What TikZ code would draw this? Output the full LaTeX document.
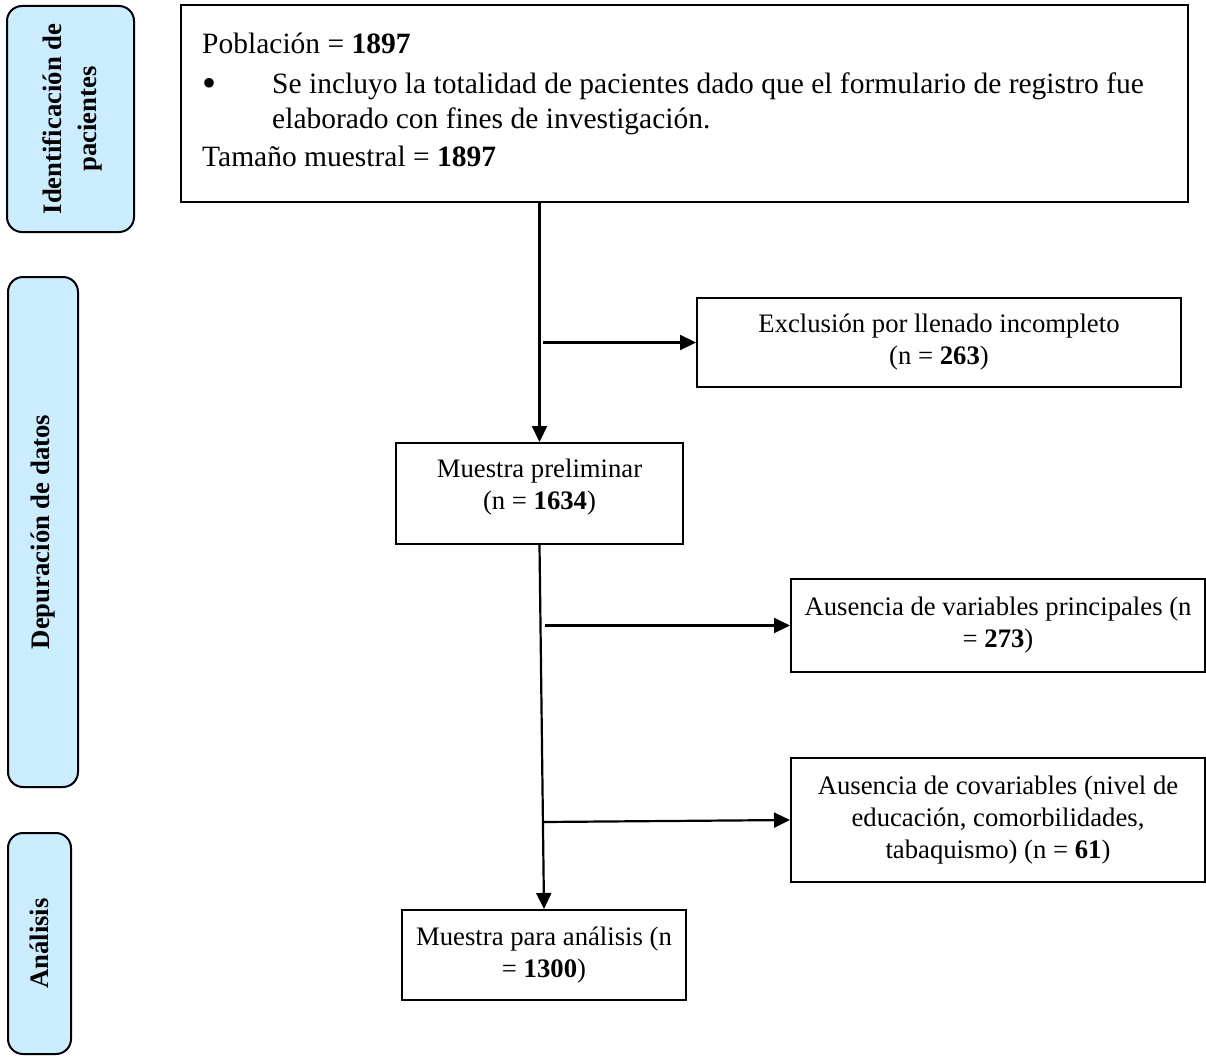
\documentclass[tikz,border=0pt]{standalone}
\usepackage{fontspec}
\setmainfont{Liberation Serif}
\usetikzlibrary{arrows.meta}
\definecolor{sideblue}{HTML}{CCECFF}
\begin{document}
\begin{tikzpicture}[x=1pt,y=-1pt,
  every node/.style={font=\fontsize{26.7}{32}\selectfont},
  sidebox/.style={draw,line width=2pt,fill=sideblue,rounded corners=15pt,inner sep=0pt},
  sidetext/.style={rotate=90,align=center,font=\fontsize{26.7}{35}\selectfont\bfseries},
  flowbox/.style={draw,line width=2pt,inner sep=0pt,align=center},
  linetext/.style={anchor=base west,inner sep=0pt,font=\fontsize{29.5}{35}\selectfont},
  arr/.style={line width=2.2pt,-{Triangle[length=16pt,width=15pt]}},
  plain/.style={line width=2.2pt}]
\useasboundingbox (0,0) rectangle (1206,1057);
% side phase boxes
\node[sidebox,minimum width=127pt,minimum height=226pt] (s1) at (70.5,119) {};
\node[sidetext] (s1t) at (72,119) {Identificación de\\pacientes};
\node[sidebox,minimum width=70pt,minimum height=510pt] (s2) at (43,532) {};
\node[sidetext] (s2t) at (43,532) {Depuración de datos};
\node[sidebox,minimum width=63pt,minimum height=221pt] (s3) at (39.5,943.5) {};
\node[sidetext] (s3t) at (39.5,943.5) {Análisis};
% top box
\node[flowbox,minimum width=1007pt,minimum height=197pt] (top) at (684.5,103.5) {};
\node[linetext] (t1) at (202,53) {Población = \textbf{1897}};
\node[linetext,font=\fontsize{40}{40}\selectfont] (t2b) at (202,96) {\textbullet};
\node[linetext] (t2) at (272,93) {Se incluyo la totalidad de pacientes dado que el formulario de registro fue};
\node[linetext] (t3) at (272,128) {elaborado con fines de investigación.};
\node[linetext] (t4) at (202,166) {Tamaño muestral = \textbf{1897}};
% flow boxes
\node[flowbox,minimum width=484pt,minimum height=89pt] (excl) at (939,342.5) {Exclusión por llenado incompleto\\(n = \textbf{263})};
\node[flowbox,minimum width=287pt,minimum height=101pt] (prel) at (539.5,493.5) {Muestra preliminar\\(n = \textbf{1634})\\[-14pt]\mbox{}};
\node[flowbox,minimum width=414pt,minimum height=93pt] (var) at (998,625.5) {Ausencia de variables principales (n\\= \textbf{273})};
\node[flowbox,minimum width=414pt,minimum height=124pt] (cov) at (998,820) {Ausencia de covariables (nivel de\\educación, comorbilidades,\\tabaquismo) (n = \textbf{61})};
\node[flowbox,minimum width=284pt,minimum height=90pt] (anal) at (544,955) {Muestra para análisis (n\\= \textbf{1300})};
% connectors
\coordinate (b1) at (543,342.5);
\coordinate (b2) at (545,625.5);
\coordinate (b3) at (543,822);
\draw[arr] (top.south -| prel.north) -- (prel.north);
\draw[arr] (b1) -- (excl.west);
\draw[arr] (prel.south) -- (anal.north);
\draw[arr] (b2) -- (var.west);
\draw[arr] (b3) -- (cov.west);
\end{tikzpicture}
\end{document}
